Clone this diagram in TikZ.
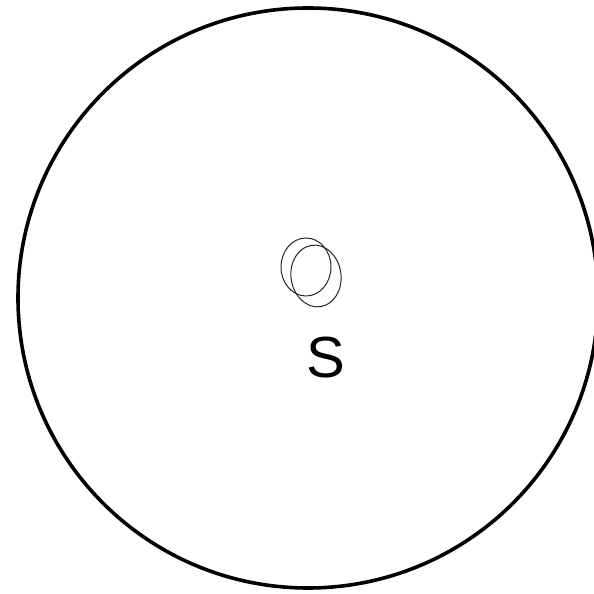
\documentclass[tikz,border=0pt]{standalone}
\usepackage{fontspec}
\setmainfont{Liberation Sans}
\usepackage{tikz}

\begin{document}
\begin{tikzpicture}[
x=1pt,y=1pt,
outer/.style={draw,line width=3.6pt},
orbit/.style={draw,line width=1pt,black!85},
lbl/.style={font=\fontsize{58}{60}\selectfont,inner sep=0pt}
]
\useasboundingbox (0,0) rectangle (594,594);
\draw[outer] (308,296) circle (290);
\draw[orbit] (306,327) ellipse (25 and 29);
\draw[orbit,rotate around={8:(316,318)}] (316,318) ellipse (25 and 31);
\node[lbl] (s) at (326,236) {S};
\end{tikzpicture}
\end{document}
